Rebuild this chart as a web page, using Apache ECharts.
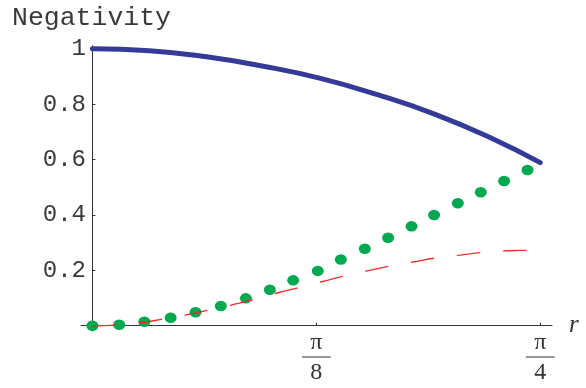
<!DOCTYPE html>
<html>
<head>
<meta charset="utf-8">
<script src="https://cdn.jsdelivr.net/npm/echarts@6/dist/echarts.min.js"></script>
<style>
html,body{margin:0;padding:0;background:#fff;}
#chart{width:586px;height:388px;}
</style>
</head>
<body>
<div id="chart"></div>
<script>
// ---- data ----
const titleText = 'Negativity';
const xName = 'r';

const blueR = [0, 0.1, 0.2, 0.3, 0.4, 0.5, 0.6, 0.7, 0.7854];
const blueV = [1, 0.993, 0.971, 0.937, 0.893, 0.834, 0.764, 0.677, 0.589];

const greenR = [0, 0.047, 0.0911, 0.1372, 0.1809, 0.2253, 0.2691, 0.3112, 0.3521, 0.3953, 0.4357, 0.4777, 0.5186, 0.5596, 0.5992, 0.6408, 0.6811, 0.7220, 0.7630];
const greenV = [0, 0.0036, 0.0144, 0.0289, 0.0484, 0.0711, 0.0989, 0.1300, 0.1639, 0.198, 0.239, 0.278, 0.3177, 0.3588, 0.3996, 0.4419, 0.4819, 0.5227, 0.5625];

const redR = [0, 0.0407, 0.0833, 0.1213, 0.1622, 0.2030, 0.2440, 0.2849, 0.3257, 0.3638, 0.4018, 0.4439, 0.4835, 0.5245, 0.5642, 0.6052, 0.6455, 0.6869, 0.7279, 0.7700, 0.7854];
const redV = [0, 0.0025, 0.0108, 0.0231, 0.0386, 0.0556, 0.0747, 0.0953, 0.1191, 0.1386, 0.1588, 0.1805, 0.1986, 0.2166, 0.2310, 0.2455, 0.2552, 0.2650, 0.2708, 0.2722, 0.273];

const xTickValues = [Math.PI / 8, Math.PI / 4];
const xTickNumer = ['π', 'π'];
const xTickDenom = ['8', '4'];

const yTickValues = [0.2, 0.4, 0.6, 0.8, 1];
const yTickLabels = ['0.2', '0.4', '0.6', '0.8', '1'];

// ---- build ----
const zip = (a, b) => a.map((v, i) => [v, b[i]]);
const axisColor = '#333';
const mono = "'Liberation Mono', 'Courier New', monospace";
const serif = "'Liberation Serif', 'Times New Roman', serif";

const chart = echarts.init(document.getElementById('chart'), null, {renderer: 'canvas'});
chart.setOption({
  animation: false,
  backgroundColor: '#fff',
  title: {
    text: titleText,
    left: 7,
    top: -1,
    textStyle: {fontFamily: mono, fontSize: 26.5, fontWeight: 'normal', color: '#3a3a3a'}
  },
  grid: {left: 81, right: 34, top: 45.7, bottom: 57, containLabel: false},
  xAxis: {
    type: 'value',
    min: -0.02,
    max: 0.806,
    name: xName,
    nameLocation: 'end',
    nameGap: 17,
    nameTextStyle: {fontFamily: serif, fontStyle: 'italic', fontSize: 25, color: '#333', verticalAlign: 'middle'},
    axisLine: {onZero: true, lineStyle: {color: axisColor, width: 1}},
    axisTick: {show: true, inside: true, length: 3, customValues: xTickValues, lineStyle: {color: axisColor}},
    splitLine: {show: false},
    axisLabel: {
      customValues: xTickValues,
      margin: 2,
      formatter: function (v) {
        let i = 0;
        for (let k = 0; k < xTickValues.length; k++) if (Math.abs(xTickValues[k] - v) < 1e-6) i = k;
        return '{n|' + xTickNumer[i] + '}\n{b| }\n{d|' + xTickDenom[i] + '}';
      },
      rich: {
        n: {fontFamily: serif, fontSize: 24, lineHeight: 20, color: '#333', align: 'center'},
        b: {width: 29, height: 1, lineHeight: 8, backgroundColor: '#333', fontSize: 1, align: 'center'},
        d: {fontFamily: serif, fontSize: 24, lineHeight: 24, color: '#333', align: 'center'}
      }
    }
  },
  yAxis: {
    type: 'value',
    min: -0.019,
    max: 1.011,
    axisLine: {onZero: true, lineStyle: {color: axisColor, width: 1}},
    axisTick: {show: true, inside: true, length: 3, customValues: yTickValues, lineStyle: {color: axisColor}},
    splitLine: {show: false},
    axisLabel: {
      customValues: yTickValues,
      margin: -5,
      fontFamily: mono,
      fontSize: 24,
      color: '#3a3a3a',
      formatter: function (v) {
        for (let k = 0; k < yTickValues.length; k++) if (Math.abs(yTickValues[k] - v) < 1e-6) return yTickLabels[k];
        return '';
      }
    }
  },
  series: [
    {
      type: 'line',
      data: zip(blueR, blueV),
      smooth: true,
      showSymbol: false,
      lineStyle: {color: '#343a98', width: 5, cap: 'round'},
      z: 2
    },
    {
      type: 'scatter',
      data: zip(greenR, greenV),
      symbol: 'circle',
      symbolSize: [12, 10.5],
      itemStyle: {color: '#00a84f', opacity: 1},
      z: 3
    },
    {
      type: 'line',
      data: zip(redR, redV),
      smooth: true,
      showSymbol: false,
      lineStyle: {color: '#ee2c2c', width: 1.3, type: [23.5, 23]},
      z: 4
    }
  ]
});
</script>
</body>
</html>
